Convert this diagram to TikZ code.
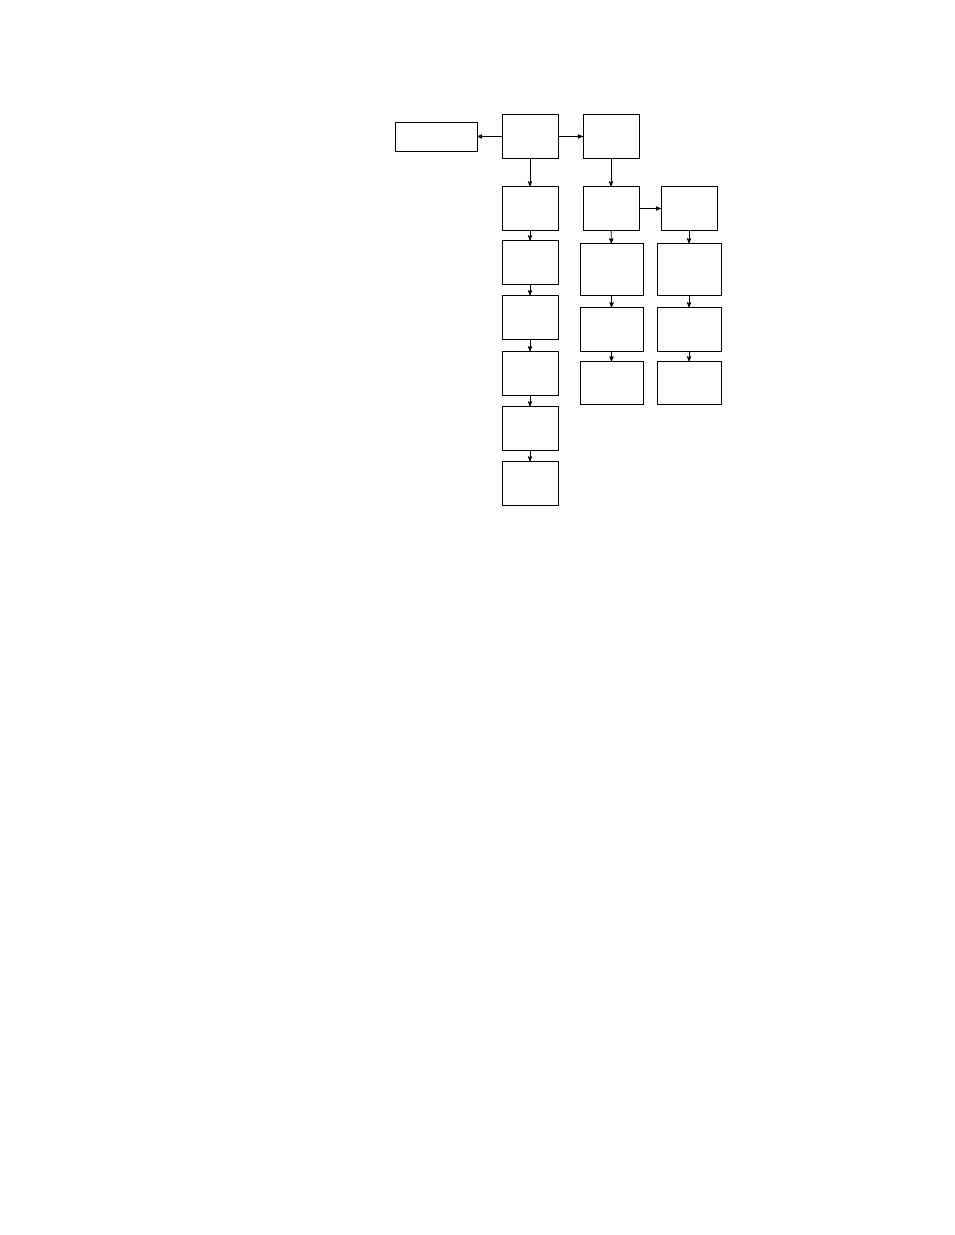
\documentclass[tikz,border=0pt]{standalone}
\usepackage{tikz}
\usetikzlibrary{arrows,positioning}

\begin{document}
\begin{tikzpicture}[x=1pt,y=1pt,>=stealth',line width=0.9pt,
    box/.style={draw,inner sep=0pt,outer sep=0pt,minimum width=56pt,minimum height=44pt},
    wide/.style={box,minimum width=63pt}]
      \useasboundingbox (0,0) rectangle (954,-1235);
      \node[box] (top) at (530,-136.5) {};
      \node[box,minimum width=82pt,minimum height=29pt] (side) [left=25pt of top] {};
      \node[box] (right) [right=25pt of top] {};

      \node[box] (a1) [below=28pt of top] {};
      \node[box] (a2) [below=10pt of a1] {};
      \node[box] (a3) [below=11pt of a2] {};
      \node[box] (a4) [below=12pt of a3] {};
      \node[box] (a5) [below=11pt of a4] {};
      \node[box] (a6) [below=11pt of a5] {};

      \node[box] (b1) [below=28pt of right] {};
      \node[wide,minimum height=52pt] (b2) [below=13pt of b1,xshift=0.5pt] {};
      \node[wide] (b3) [below=12pt of b2] {};
      \node[wide,minimum height=43pt] (b4) [below=10pt of b3] {};

      \node[box] (c1) [right=22pt of b1] {};
      \node[wide,minimum width=64pt,minimum height=52pt] (c2) [below=13pt of c1] {};
      \node[wide,minimum width=64pt] (c3) [below=12pt of c2] {};
      \node[wide,minimum width=64pt,minimum height=43pt] (c4) [below=10pt of c3] {};

      \path[->]
      (top) edge (side)
      (top) edge (right)
      (top) edge (a1)
      (right) edge (b1)
      (b1) edge (c1)

      (a1) edge (a2)
      (a2) edge (a3)
      (a3) edge (a4)
      (a4) edge (a5)
      (a5) edge (a6)

      (b1) edge (b2)
      (b2) edge (b3)
      (b3) edge (b4)

      (c1) edge (c2)
      (c2) edge (c3)
      (c3) edge (c4)
      ;
    \end{tikzpicture}
\end{document}
